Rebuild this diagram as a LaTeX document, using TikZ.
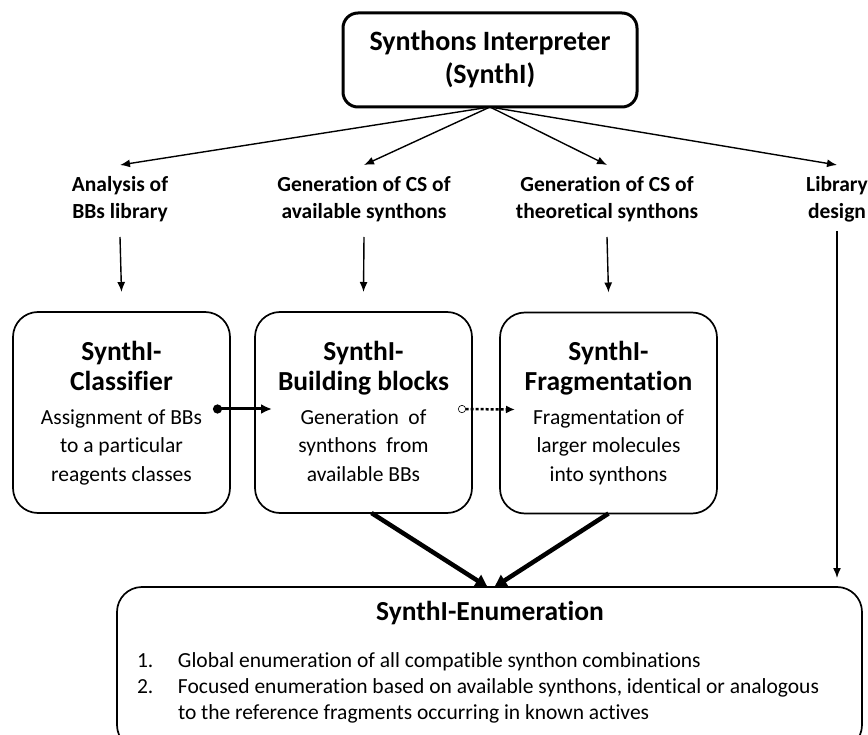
\documentclass[tikz,border=0pt]{standalone}
\usepackage{fontspec}
\setmainfont{Carlito}[Ligatures=NoCommon]
\usetikzlibrary{arrows.meta,calc}
\tikzset{
  every node/.style={inner sep=0pt, outer sep=0pt},
  topbox/.style={draw, line width=3pt, rounded corners=15pt, minimum width=294pt, minimum height=94pt,
    align=center, font=\fontsize{28}{33}\selectfont\bfseries},
  midbox/.style={draw, line width=1.7pt, rounded corners=25pt, minimum width=217pt, minimum height=201pt},
  enumbox/.style={draw, line width=1.7pt, rounded corners=25pt, minimum width=745pt, minimum height=163pt},
  hd/.style={align=center, font=\fontsize{27.5}{30}\selectfont\bfseries},
  bd/.style={align=center, font=\fontsize{21.5}{28.5}\selectfont},
  lbl/.style={align=center, font=\fontsize{21.5}{27}\selectfont\bfseries},
  listtxt/.style={font=\fontsize{21.5}{26}\selectfont},
  thinarr/.style={line width=1.4pt, -{Latex[length=10pt,width=8pt]}},
  fatarr/.style={line width=4.5pt, -{Triangle[length=12pt,width=13pt]}},
  solidarr/.style={line width=3pt, {Circle[length=9pt]}-{Latex[length=11pt,width=10pt]}},
  dotarr/.style={line width=2.5pt, dash pattern=on 3pt off 2pt,
    {Circle[open,length=8pt,line width=0.6pt]}-{Latex[length=9pt,width=8pt]}},
}
\begin{document}
\begin{tikzpicture}[x=1pt,y=-1pt]
\useasboundingbox (0,0) rectangle (868,735);
\clip (0,0) rectangle (868,735);

% top box
\node[topbox] (top) at (490,60) {\strut Synthons Interpreter\\\strut (SynthI)};

% labels
\node[lbl] (lA) at (120,200) {\strut Analysis of\\\strut BBs library};
\node[lbl] (lB) at (364,200) {\strut Generation of CS of\\\strut available synthons};
\node[lbl] (lC) at (607,200) {\strut Generation of CS of\\\strut theoretical synthons};
\node[lbl] (lD) at (837,200) {\strut Library\\\strut design};

% middle boxes
\node[midbox] (cls) at (121.5,412.5) {};
\node[midbox] (bb) at (363.5,412.5) {};
\node[midbox] (frag) at (608.5,413) {};

\node[hd] (clsT) at (121.5,370) {\strut SynthI-\\\strut Classifier};
\node[hd] (bbT) at (363.5,370) {\strut SynthI-\\\strut Building blocks};
\node[hd] (fragT) at (608.5,370) {\strut SynthI-\\\strut Fragmentation};

\node[bd] (clsB) at (121.5,447.3) {\strut Assignment of BBs\\\strut to a particular\\\strut reagents classes};
\node[bd] (bbB) at (363.5,447.3) {\strut Generation\ \ of\\\strut synthons\ \ from\\\strut available BBs};
\node[bd] (fragB) at (608.5,447.3) {\strut Fragmentation of\\\strut larger molecules\\\strut into synthons};

% bottom box
\node[enumbox] (enum) at (489.5,668.5) {};
\node[hd, anchor=base] (enumT) at (490,620) {SynthI-Enumeration};
\node[listtxt, anchor=base west] (enumL) at (137,667.5) {%
  \begin{tabular}[t]{@{}p{41pt}@{}l@{}}
  1.&Global enumeration of all compatible synthon combinations\\
  2.&Focused enumeration based on available synthons, identical or analogous\\
    &to the reference fragments occurring in known actives
  \end{tabular}};

% arrows from top
\draw[thinarr] (top.south) -- ([yshift=8pt]lA.north);
\draw[thinarr] (top.south) -- ([yshift=8pt]lB.north);
\draw[thinarr] (top.south) -- ([yshift=8pt]lC.north);
\draw[thinarr] (top.south) -- ([yshift=8pt]lD.north);

% label to box arrows
\draw[thinarr] ([yshift=-10pt]lA.south) -- ([yshift=20pt]cls.north);
\draw[thinarr] ([yshift=-10pt]lB.south) -- ([yshift=20pt]bb.north);
\draw[thinarr] ([yshift=-10pt]lC.south) -- ([yshift=20pt]frag.north);
\draw[thinarr, shorten <=4pt, shorten >=9pt] (lD.south) -- (lD.south |- enum.north);

% between boxes
\draw[solidarr] ([xshift=-17pt,yshift=3.5pt]cls.east) -- ([xshift=17pt,yshift=3.5pt]bb.west);
\draw[dotarr] ([xshift=-14pt,yshift=3.5pt]bb.east) -- ([xshift=15pt,yshift=3.5pt]frag.west);

% to enumeration
\draw[fatarr] ([xshift=8pt]bb.south) -- ([xshift=-2pt]enum.north);
\draw[fatarr] (frag.south) -- ([xshift=5pt]enum.north);
\end{tikzpicture}
\end{document}
